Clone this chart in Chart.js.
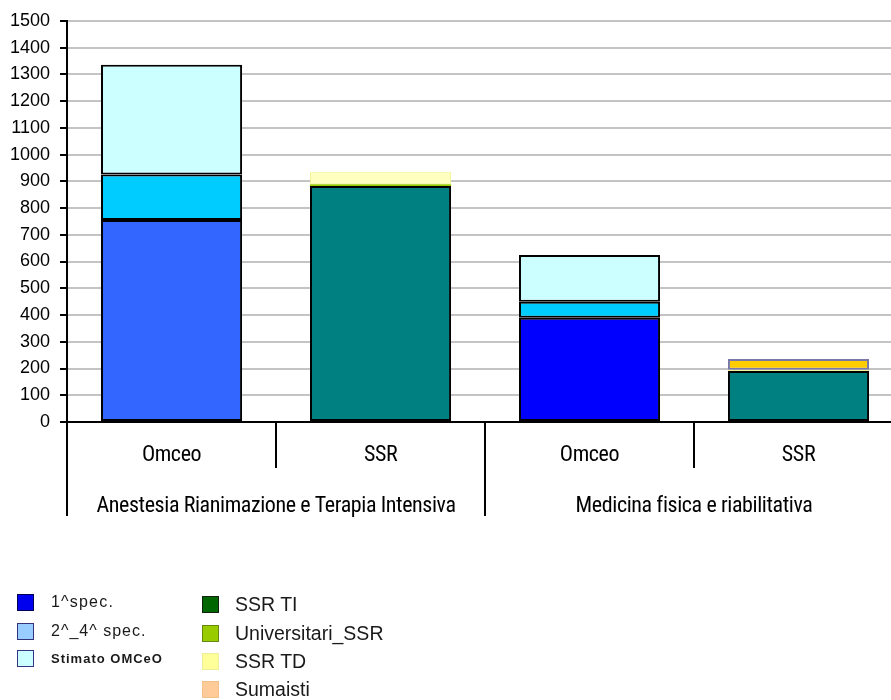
<!DOCTYPE html>
<html>
<head>
<meta charset="utf-8">
<script src="https://cdn.jsdelivr.net/npm/chart.js@4/dist/chart.umd.min.js"></script>
<style>
  html, body { margin: 0; padding: 0; background: #fff; overflow: hidden; }
  #wrap { position: relative; width: 891px; height: 700px; overflow: hidden; }
  #chart { position: absolute; left: 0; top: 0; }
  #legend { position: absolute; left: 0; top: 0; width: 891px; height: 700px; color: #1a1a1a;
            font-family: 'Liberation Sans', Arial, sans-serif; filter: blur(0.3px); }
  .item { position: absolute; display: flex; align-items: center; white-space: nowrap; }
  .swatch { width: 15px; height: 15px; border: 1.5px solid #222; box-sizing: content-box; }
</style>
</head>
<body>
<div id="wrap">
  <canvas id="chart" width="904" height="530"></canvas>
  <div id="legend"></div>
</div>
<script>
// Sub-categories along the x axis and the two specialty groups under them
const categories = ['Omceo', 'SSR', 'Omceo', 'SSR'];
const groups = ['Anestesia Rianimazione e Terapia Intensiva', 'Medicina fisica e riabilitativa'];

// Y axis range
const yMin = 0;
const yMax = 1500;
const yStep = 100;

// Series values (one per sub-category, null where the series is absent)
const spec1 = [755, null, 390, null];
const spec2to4 = [170, null, 60, null];
const stimato = [411, null, 174, null];
const ssrTI = [null, 882, null, 191];
const universitari = [null, 7, null, null];
const ssrTD = [null, 47, null, 4];
const sumaisti = [null, null, null, 41];

// Series names as shown in the legend
const seriesNames = ['1^spec.', '2^_4^ spec.', 'Stimato OMCeO', 'SSR TI', 'Universitari_SSR', 'SSR TD', 'Sumaisti'];

// Bar fill colours
const spec1Colors = ['#3366FF', '#3366FF', '#0000FF', '#0000FF'];
const barColors = [spec1Colors, '#00CCFF', '#CCFFFF', '#008080', '#99CC00', '#FFFFC0', '#FFCC00'];
const barBorders = ['#000', '#000', '#000', '#000', '#99CC00', '#F2F29A', '#7A78A8'];
const barBorderWidths = [2, 2, 2, 2, 0, 1, 2];

// Legend swatch colours
const swatchColors = ['#0000EE', '#99CCFF', '#CCFFFF', '#006600', '#99CC00', '#FFFF99', '#FFCC99'];
const swatchBorders = ['#000055', '#333377', '#333388', '#112211', '#668811', '#EEEE99', '#F2C08A'];

const seriesValues = [spec1, spec2to4, stimato, ssrTI, universitari, ssrTD, sumaisti];

const datasets = seriesValues.map((values, i) => ({
    label: seriesNames[i],
    data: values,
    backgroundColor: barColors[i],
    borderColor: barBorders[i],
    borderWidth: barBorderWidths[i],
    borderSkipped: false
}));

const labelFont = "'Liberation Sans', Arial, sans-serif";
const narrowFont = "'Roboto Condensed', 'Liberation Sans Narrow', 'DejaVu Sans Condensed', sans-serif";

// x-axis labels are drawn after the bars (ticks.z = 1), so the
// tighter letter spacing only reaches them
const tightLabels = {
    id: 'tightLabels',
    afterDatasetsDraw(chart) { chart.ctx.letterSpacing = '-0.4px'; },
    afterDraw(chart) { chart.ctx.letterSpacing = '0px'; }
};

const ctx = document.getElementById('chart').getContext('2d');
new Chart(ctx, {
    type: 'bar',
    data: {
        labels: categories,
        datasets: datasets
    },
    plugins: [tightLabels],
    options: {
        responsive: false,
        animation: false,
        layout: { padding: { left: 0, right: 1, top: 3, bottom: 8 } },
        datasets: { bar: { barPercentage: 1, categoryPercentage: 0.675 } },
        plugins: {
            legend: { display: false },
            tooltip: { enabled: false }
        },
        scales: {
            // the long tick marks double as separators between the sub-categories;
            // a tall line height keeps the label inside the axis box
            x: {
                stacked: true,
                offset: true,
                grid: { offset: true, drawOnChartArea: false, tickLength: 46, color: '#000', lineWidth: 2 },
                border: { color: '#000', width: 2 },
                ticks: { z: 1, padding: -13, crossAlign: 'center', color: '#000', font: { family: narrowFont, size: 22, lineHeight: '26px' } }
            },
            // second row of labels: the specialty groups
            x2: {
                type: 'category',
                labels: groups,
                position: 'bottom',
                offset: true,
                grid: { offset: true, drawOnChartArea: false, tickLength: 48, color: '#000', lineWidth: 2 },
                border: { display: false },
                ticks: { z: 1, padding: -10, crossAlign: 'center', color: '#000', font: { family: narrowFont, size: 22, lineHeight: '26px' } }
            },
            y: {
                stacked: true,
                min: yMin,
                max: yMax,
                ticks: {
                    stepSize: yStep,
                    padding: 10,
                    color: '#000',
                    autoSkip: false,
                    font: { family: labelFont, size: 18 },
                    callback: value => String(value)
                },
                grid: { color: '#C4C4C4', lineWidth: 2, tickColor: '#000', tickLength: 7 },
                border: { color: '#000', width: 2 }
            }
        }
    }
});

// Legend: two columns below the chart
const legendCols = [[0, 1, 2], [3, 4, 5, 6]];
const colLeft = [17, 202];
const rowTop = [593, 622, 650, 678];
const legendFonts = [
    'font-size:16px;letter-spacing:1.2px;',
    'font-size:16px;letter-spacing:1px;',
    'font-size:13px;font-weight:bold;letter-spacing:1px;',
    'font-size:19.5px;', 'font-size:19.5px;', 'font-size:19.5px;', 'font-size:19.5px;'
];
const legend = document.getElementById('legend');
legendCols.forEach((col, c) => {
    col.forEach((s, r) => {
        const item = document.createElement('div');
        item.className = 'item';
        item.style.left = colLeft[c] + 'px';
        item.style.top = rowTop[r] + 'px';
        const sw = document.createElement('span');
        sw.className = 'swatch';
        sw.style.background = swatchColors[s];
        sw.style.borderColor = swatchBorders[s];
        sw.style.marginRight = (c === 0 ? 17 : 16) + 'px';
        const txt = document.createElement('span');
        txt.style.cssText = legendFonts[s];
        txt.textContent = seriesNames[s];
        item.appendChild(sw);
        item.appendChild(txt);
        legend.appendChild(item);
    });
});
</script>
</body>
</html>
